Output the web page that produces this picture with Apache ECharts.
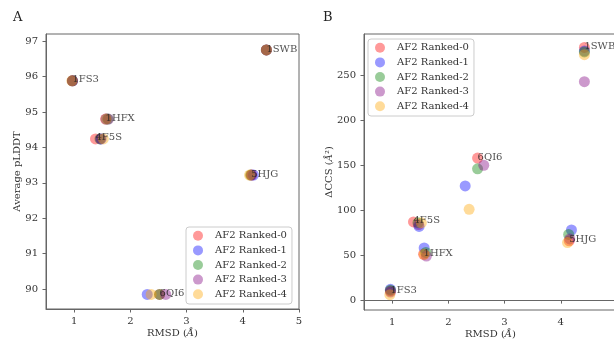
<!DOCTYPE html>
<html>
<head>
<meta charset="utf-8">
<script src="https://cdn.jsdelivr.net/npm/echarts@6/dist/echarts.min.js"></script>
<style>
  html, body { margin: 0; padding: 0; background: #fff; }
  #chart { width: 614px; height: 341px; }
</style>
</head>
<body>
<div id="chart"></div>
<script>
// proteins, same order in every array
var proteins = ['1FS3', '1HFX', '4F5S', '5HJG', '1SWB', '6QI6'];
var ranks = ['AF2 Ranked-0', 'AF2 Ranked-1', 'AF2 Ranked-2', 'AF2 Ranked-3', 'AF2 Ranked-4'];
var colors = ['#ff0000', '#0000ff', '#008000', '#800080', '#ffa500'];

// RMSD (A) per model
var rmsd0 = [0.97, 1.56, 1.38, 4.15, 4.42, 2.52];
var rmsd1 = [0.97, 1.57, 1.48, 4.19, 4.42, 2.30];
var rmsd2 = [0.97, 1.60, 1.46, 4.14, 4.42, 2.52];
var rmsd3 = [0.97, 1.61, 1.47, 4.16, 4.42, 2.63];
var rmsd4 = [0.96, 1.57, 1.52, 4.12, 4.42, 2.37];

// average pLDDT per model
var plddt0 = [95.88, 94.80, 94.24, 93.22, 96.75, 89.85];
var plddt1 = [95.88, 94.80, 94.24, 93.22, 96.75, 89.85];
var plddt2 = [95.88, 94.80, 94.24, 93.22, 96.75, 89.85];
var plddt3 = [95.88, 94.80, 94.24, 93.22, 96.75, 89.85];
var plddt4 = [95.88, 94.80, 94.24, 93.22, 96.75, 89.85];

// delta CCS (A^2) per model
var ccs0 = [10, 51, 87, 66, 281, 158];
var ccs1 = [12, 58, 82, 78, 277, 127];
var ccs2 = [11, 53, 86, 73, 276, 146];
var ccs3 = [9, 49, 84, 68, 243, 150];
var ccs4 = [6, 51, 86, 64, 273, 101];

var xTicks = [1, 2, 3, 4, 5];
var plddtTicks = [90, 91, 92, 93, 94, 95, 96, 97];
var ccsTicks = [0, 50, 100, 150, 200, 250];

var rmsdAll = [rmsd0, rmsd1, rmsd2, rmsd3, rmsd4];
var plddtAll = [plddt0, plddt1, plddt2, plddt3, plddt4];
var ccsAll = [ccs0, ccs1, ccs2, ccs3, ccs4];

var font = 'DejaVu Serif';
var txt = { fontFamily: font, fontSize: 10, color: '#333' };
var nameStyle = { fontFamily: font, fontSize: 10, color: '#333',
  rich: { i: { fontFamily: font, fontSize: 10, fontStyle: 'italic', color: '#333' } } };

function pairs(xs, ys, names) {
  return xs.map(function (x, i) { return names ? [x, ys[i], names[i]] : [x, ys[i]]; });
}

function xAxis(idx) {
  return {
    type: 'value', gridIndex: idx, min: 0.5, max: 5.0,
    name: 'RMSD ({i|Å})', nameLocation: 'middle', nameGap: 19, nameMoveOverlap: false,
    nameTextStyle: nameStyle,
    axisLine: { show: true, lineStyle: { color: '#666' } },
    axisTick: { show: true, length: 3.5, customValues: xTicks, lineStyle: { color: '#666' } },
    axisLabel: Object.assign({ customValues: xTicks, margin: 7 }, txt),
    splitLine: { show: false }
  };
}

function yAxis(idx, min, max, ticks, name, gap) {
  return {
    type: 'value', gridIndex: idx, min: min, max: max,
    name: name, nameLocation: 'middle', nameGap: gap, nameMoveOverlap: false,
    nameTextStyle: nameStyle,
    axisLine: { show: true, lineStyle: { color: '#666' } },
    axisTick: { show: true, length: 3.5, customValues: ticks, lineStyle: { color: '#666' } },
    axisLabel: Object.assign({ customValues: ticks, margin: 8 }, txt),
    splitLine: { show: false }
  };
}

function legend(left, top) {
  return {
    data: ranks, orient: 'vertical', left: left, top: top,
    itemWidth: 16, itemHeight: 10, itemGap: 3, icon: 'circle',
    padding: [3, 5, 4, 7],
    backgroundColor: '#fff', borderColor: '#ccc', borderWidth: 1, borderRadius: 3,
    textStyle: { fontFamily: font, fontSize: 10, color: '#333', lineHeight: 11.6, padding: [0, 0, 0, 4] }
  };
}

var series = [];
[0, 1].forEach(function (p) {
  var ys = p === 0 ? plddtAll : ccsAll;
  ranks.forEach(function (r, k) {
    series.push({
      type: 'scatter', name: r, xAxisIndex: p, yAxisIndex: p,
      symbolSize: 11, data: pairs(rmsdAll[k], ys[k]),
      itemStyle: { color: colors[k], opacity: 0.4 },
      emphasis: { disabled: true }
    });
  });
  // protein names placed at the Ranked-0 point
  series.push({
    type: 'scatter', name: 'labels' + p, xAxisIndex: p, yAxisIndex: p,
    symbolSize: 0, silent: true, z: 5,
    data: pairs(rmsd0, ys[0], proteins),
    label: {
      show: true, position: [0, 0], align: 'left', verticalAlign: 'bottom', offset: [0, 4],
      formatter: function (d) { return d.data[2]; },
      fontFamily: font, fontSize: 10, color: '#222'
    }
  });
});

var option = {
  animation: false,
  backgroundColor: '#fff',
  title: [
    { text: 'A', left: 8, top: 6, textStyle: { fontFamily: font, fontSize: 13, fontWeight: 'normal', color: '#222' } },
    { text: 'B', left: 318, top: 6, textStyle: { fontFamily: font, fontSize: 13, fontWeight: 'normal', color: '#222' } }
  ],
  grid: [
    { left: 46, top: 34, width: 253, height: 275, outerBoundsMode: 'none',
      show: true, borderColor: '#666', borderWidth: 1 },
    { left: 364, top: 34, width: 253, height: 276, outerBoundsMode: 'none',
      show: true, borderColor: '#666', borderWidth: 1 }
  ],
  legend: [legend(186, 227), legend(368, 39)],
  xAxis: [xAxis(0), xAxis(1)],
  yAxis: [
    yAxis(0, 89.44, 97.2, plddtTicks, 'Average pLDDT', 24),
    yAxis(1, -11, 296, ccsTicks, 'ΔCCS ({i|Å}²)', 30)
  ],
  series: series
};

var myChart = echarts.init(document.getElementById('chart'));
myChart.setOption(option);
</script>
</body>
</html>
